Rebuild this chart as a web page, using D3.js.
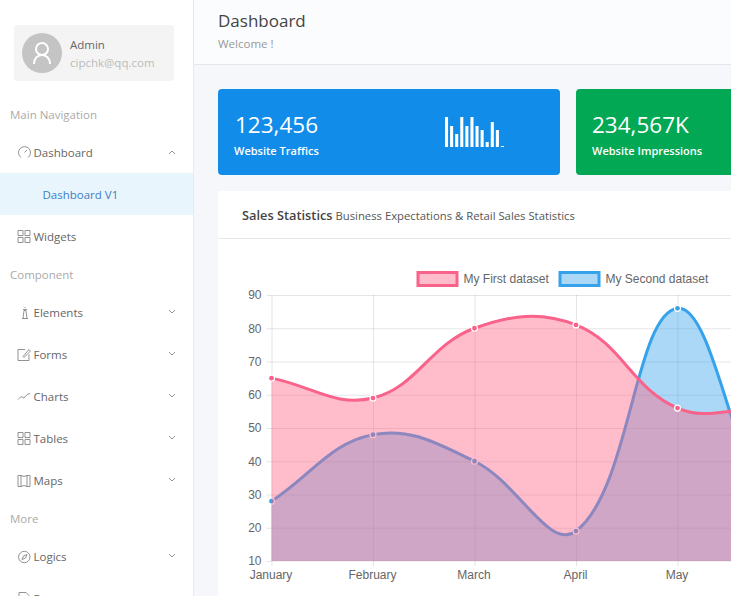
<!DOCTYPE html>
<html lang="en">
<head>
  <meta charset="UTF-8">
  <title>Dashboard</title>
  <script src="https://cdn.jsdelivr.net/npm/d3@7"></script>
  <style>
    html, body { margin: 0; padding: 0; overflow: hidden; background: #f5f7fa; }
    svg { display: block; }
    text { font-family: "Open Sans", "Noto Sans", sans-serif; }
    .chart text { font-family: "Liberation Sans", Arial, sans-serif; font-size: 12px; fill: #666; }
    .icon { fill: none; stroke: #777; stroke-width: 0.8; }
  </style>
</head>
<body>
  <script>
    const months = ['January', 'February', 'March', 'April', 'May', 'June', 'July']
    const datasets = [
      { label: 'My First dataset', values: [65, 59, 80, 81, 56, 55, 40], line: '#f9628a', fill: 'rgba(255,99,132,0.43)' },
      { label: 'My Second dataset', values: [28, 48, 40, 19, 86, 27, 90], line: '#36a2eb', fill: 'rgba(54,162,235,0.42)' }
    ]
    const miniBars = [30, 21, 13, 30, 21, 30, 21, 17, 5, 25, 17, 1]

    const svg = d3.select('body').append('svg').attr('width', 731).attr('height', 596)

    function label(x, y, str, size, color, weight) {
      return svg.append('text').attr('x', x).attr('y', y).text(str)
        .attr('font-size', size).attr('fill', color).attr('font-weight', weight || 400)
    }
    function box(x, y, w, h, fill, r) {
      return svg.append('rect').attr('x', x).attr('y', y).attr('width', w).attr('height', h)
        .attr('fill', fill).attr('rx', r || 0)
    }

    // page frame
    box(193, 0, 538, 64, '#fbfcfd')
    box(193, 64, 538, 1, '#e3e6eb')
    box(0, 0, 193, 596, '#fff')
    box(193, 0, 1, 596, '#e6e9ef')

    // sidebar profile
    box(14, 25, 160, 56, '#f4f4f4', 3)
    svg.append('circle').attr('cx', 42).attr('cy', 53).attr('r', 20).attr('fill', '#c4c4c4')
    svg.append('circle').attr('cx', 42).attr('cy', 49).attr('r', 6).attr('fill', 'none').attr('stroke', '#fff').attr('stroke-width', 2)
    svg.append('path').attr('d', 'M34,64 C34,52 50,52 50,64').attr('fill', 'none').attr('stroke', '#fff').attr('stroke-width', 2)
    label(70, 49, 'Admin', 11.5, '#666')
    label(70, 67, 'cipchk@qq.com', 11.5, '#bbb')

    // sidebar menu
    box(0, 173, 193, 42, '#e9f5fc')
    const headings = [['Main Navigation', 119], ['Component', 279], ['More', 523]]
    headings.forEach(d => label(10, d[1], d[0], 11.5, '#aaa'))
    const menu = [
      ['Dashboard', 157, 'gauge', true], ['Widgets', 241, 'grid'], ['Elements', 317, 'pawn', false, true],
      ['Forms', 359, 'edit', false, true], ['Charts', 401, 'line', false, true], ['Tables', 443, 'grid', false, true],
      ['Maps', 485, 'map', false, true], ['Logics', 561, 'compass', false, true], ['Pages', 603, 'page']
    ]
    const iconPaths = {
      grid: 'M0,0h5v5h-5zM7,0h5v5h-5zM0,7h5v5h-5zM7,7h5v5h-5z',
      gauge: 'M3,11 A6,6 0 1 1 10,11 M6.5,6 L9,3.5',
      pawn: 'M4,12h6M5,12L6,4h2L9,12M5,3h4M7,0.5v1',
      edit: 'M11,6v6h-11v-11h7M5,8L11,1l1.5,1.5L6,9z',
      line: 'M0,9L3,6L6,7.5L9,4L12,3',
      map: 'M0,1h3l3,1l3,-1h3v11h-3l-3,-1l-3,1h-3zM3,1v11M9,1v11',
      compass: 'M12,6.5A5.7,5.7 0 1 1 0.6,6.5A5.7,5.7 0 1 1 12,6.5ZM9,4L5.5,5.5L4,9L7.5,7.5Z',
      page: 'M1,0h7l3,3v9h-10z'
    }
    menu.forEach(d => {
      label(33.5, d[1], d[0], 11.5, '#666')
      svg.append('path').attr('class', 'icon').attr('d', iconPaths[d[2]])
        .attr('transform', `translate(18,${d[1] - 10.5})`)
      if (d[3] || d[4]) {
        const dir = d[3] ? -1 : 1
        svg.append('path').attr('class', 'icon').attr('stroke', '#999')
          .attr('d', `M169,${d[1] - 5 - dir * 2} L172,${d[1] - 5 + dir} L175,${d[1] - 5 - dir * 2}`)
      }
    })
    label(42.5, 199, 'Dashboard V1', 11.5, '#3d7fc4')

    // page title
    label(218, 27, 'Dashboard', 17, '#444')
    label(218, 48, 'Welcome !', 11.5, '#999')

    // stat cards
    box(218, 89, 342, 86, '#118de9', 4)
    box(576, 89, 200, 86, '#02a854', 4)
    label(235, 133, '123,456', 22.5, '#fff')
    label(234, 155, 'Website Traffics', 11, '#fff', 600)
    label(592, 133, '234,567K', 22.5, '#fff')
    label(592, 155, 'Website Impressions', 11, '#fff', 600)

    const miniX = d3.scaleBand().domain(d3.range(miniBars.length)).range([445, 504]).paddingInner(0.4).paddingOuter(0)
    const miniY = d3.scaleLinear().domain([0, 30]).range([147, 117])
    svg.append('g').selectAll('rect').data(miniBars).join('rect')
      .attr('x', (d, i) => miniX(i))
      .attr('y', d => miniY(d))
      .attr('width', miniX.bandwidth())
      .attr('height', d => miniY(0) - miniY(d))
      .attr('fill', '#fff')

    // sales panel
    box(218, 191, 540, 420, '#fff')
    box(218, 238, 540, 1, '#e8e8e8')
    const title = label(242, 220, 'Sales Statistics', 12.8, '#444', 600)
    title.append('tspan').text(' Business Expectations & Retail Sales Statistics')
      .attr('font-size', 11.3).attr('font-weight', 400).attr('fill', '#555')

    // chart
    const x = d3.scalePoint().domain(months).range([271.5, 880.5])
    const y = d3.scaleLinear().domain([10, 90]).range([561, 295])
    const chart = svg.append('g').attr('class', 'chart')

    // same spline as chart.js with lineTension 0.4
    function tensionCurve(context) {
      let pts, state
      return {
        areaStart() { state = 0 },
        areaEnd() { state = NaN },
        lineStart() { pts = [] },
        point(px, py) { pts.push([+px, +py]) },
        lineEnd() {
          const n = pts.length, t = 0.4
          const ctrl = pts.map((p, i) => {
            const a = pts[Math.max(i - 1, 0)], b = pts[Math.min(i + 1, n - 1)]
            const d01 = Math.hypot(p[0] - a[0], p[1] - a[1])
            const d12 = Math.hypot(b[0] - p[0], b[1] - p[1])
            const s = d01 + d12 || 1
            const clampY = v => Math.max(295, Math.min(561, v))
            return {
              prev: [p[0] - t * d01 / s * (b[0] - a[0]), clampY(p[1] - t * d01 / s * (b[1] - a[1]))],
              next: [p[0] + t * d12 / s * (b[0] - a[0]), clampY(p[1] + t * d12 / s * (b[1] - a[1]))]
            }
          })
          if (state) context.lineTo(pts[0][0], pts[0][1])
          else context.moveTo(pts[0][0], pts[0][1])
          for (let i = 1; i < n; i++) {
            context.bezierCurveTo(ctrl[i - 1].next[0], ctrl[i - 1].next[1], ctrl[i].prev[0], ctrl[i].prev[1], pts[i][0], pts[i][1])
          }
          if (state) context.closePath()
          state = 1 - state
        }
      }
    }

    const grid = 'rgba(0,0,0,0.1)'
    const yAxis = d3.axisLeft(y).tickValues(d3.range(10, 91, 10)).tickSize(5).tickPadding(5)
    const xAxis = d3.axisBottom(x).tickSize(5).tickPadding(4)
    const yg = chart.append('g').attr('transform', 'translate(271.5,0)').call(yAxis)
    const xg = chart.append('g').attr('transform', 'translate(0,561)').call(xAxis)
    yg.select('.domain').remove()
    xg.select('.domain').remove()
    chart.selectAll('.tick line').attr('stroke', grid)
    xg.selectAll('.tick text').attr('dx', -1)
    // June and July sit past the right edge of the window
    xg.selectAll('.tick').filter(d => x(d) > 731).select('text').remove()
    yg.selectAll('.tick').filter(d => d > 10).append('line').attr('x1', 0).attr('x2', 609).attr('stroke', grid)
    xg.selectAll('.tick').append('line').attr('y1', 0).attr('y2', -266).attr('stroke', grid)
    chart.append('line').attr('x1', 271.5).attr('x2', 880).attr('y1', 561).attr('y2', 561).attr('stroke', grid)

    const area = d3.area().x((d, i) => x(months[i])).y0(y(10)).y1(d => y(d))
      .curve(tensionCurve)
    const line = d3.line().x((d, i) => x(months[i])).y(d => y(d)).curve(tensionCurve)

    // chart.js paints the last dataset first
    datasets.slice().reverse().forEach(ds => {
      const g = chart.append('g')
      g.append('path').attr('d', area(ds.values)).attr('fill', ds.fill)
      g.append('path').attr('d', line(ds.values)).attr('fill', 'none').attr('stroke', ds.line).attr('stroke-width', 3)
      g.selectAll('circle').data(ds.values).join('circle')
        .attr('cx', (d, i) => x(months[i]))
        .attr('cy', d => y(d))
        .attr('r', 3)
        .attr('fill', ds.line)
        .attr('stroke', '#fff')
        .attr('stroke-width', 1.2)
    })

    // legend
    const legendX = [416.5, 558.5]
    datasets.forEach((ds, i) => {
      chart.append('rect').attr('x', legendX[i] + 1.5).attr('y', 272.5).attr('width', 39).attr('height', 13)
        .attr('fill', ds.fill).attr('stroke', ds.line).attr('stroke-width', 3)
      chart.append('text').attr('x', legendX[i] + 47).attr('y', 283).text(ds.label)
    })
  </script>
</body>
</html>
